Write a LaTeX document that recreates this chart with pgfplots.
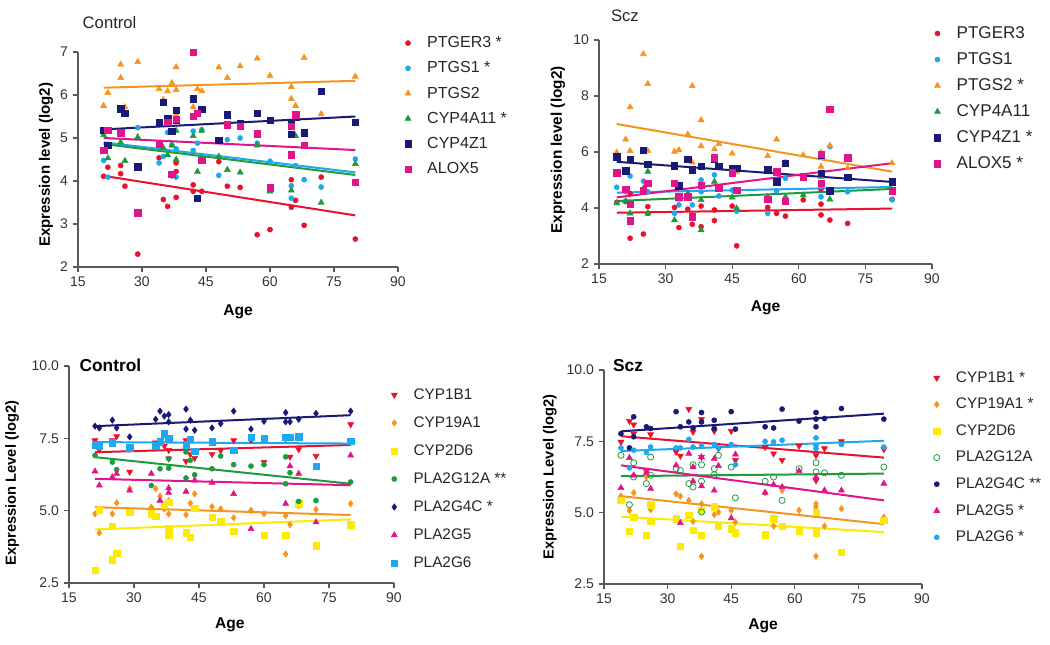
\documentclass[border=0pt]{standalone}
\usepackage{pgfplots}
\pgfplotsset{compat=1.18}
\usepackage{fontspec}
\setmainfont{Liberation Sans}
\definecolor{cRed}{RGB}{232,18,45}
\definecolor{cBlue}{RGB}{30,168,240}
\definecolor{cOrange}{RGB}{247,148,30}
\definecolor{cGreen}{RGB}{30,155,60}
\definecolor{cNavy}{RGB}{25,25,120}
\definecolor{cMag}{RGB}{225,20,140}
\definecolor{cYel}{RGB}{250,235,0}
\pgfplotsset{
 panel/.style={
  scale only axis, axis lines=left,
  axis line style={-, draw=black!65, line width=0.9pt},
  tick align=outside, major tick length=4pt,
  tick style={draw=black!65, line width=0.9pt},
  xmin=15, xmax=90, xtick={15,30,...,90},
  ticklabel style={font=\fontsize{10.5}{12}\selectfont, text=black!80},
  /pgf/number format/assume math mode=true,
  label style={font=\bfseries\fontsize{11.5}{14}\selectfont},
  xlabel={Age},
  xlabel style={font=\bfseries\fontsize{11.7}{14}\selectfont},
  legend style={draw=none, fill=none, font=\fontsize{12}{14}\selectfont, anchor=north west, row sep=5pt, text=black!85,
    /tikz/every odd column/.append style={column sep=10pt}},
  legend cell align=left,
  clip=false,
 },
 pt/.style={only marks, mark=*, mark size=1.9pt, color=#1},
 sq/.style={only marks, mark=square*, mark size=2.4pt, color=#1},
 tri/.style={only marks, mark=triangle*, mark size=2.6pt, color=#1},
 dtri/.style={only marks, mark=triangle*, mark size=2.6pt, mark options={rotate=180}, color=#1},
 dia/.style={only marks, mark=diamond*, mark size=2.4pt, color=#1},
 oc/.style={only marks, mark=o, mark size=2.3pt, color=#1, mark options={line width=0.6pt}},
 reg/.style={color=#1, line width=1.5pt, forget plot},
}
\begin{document}
\begin{tikzpicture}
\useasboundingbox (0,0) rectangle (787.5pt,483pt);
% ---------------- Panel 1: Control (top-left)
\begin{axis}[panel, at={(58.5pt,282.75pt)}, anchor=south west, width=240pt, height=161.25pt,
  ymin=2, ymax=7, ytick={2,3,...,7},
  ylabel={Expression level (log2)},
  ylabel style={at={(axis description cs:-0.1,0.475)}, anchor=center, font=\bfseries\fontsize{11.3}{14}\selectfont},
  xlabel style={at={(axis description cs:0.5,-0.21)}, anchor=center},
  legend style={at={(axis description cs:1.008,1.098)}}]
\addplot[pt=cRed] coordinates {(22,4.32)(21,4.11)(25,4.36)(25,4.17)(26,3.88)(29,2.30)(34,4.54)(35,3.57)(36,3.41)(37,4.12)(38,3.62)(38,4.42)(38,4.22)(42,3.91)(42,3.76)(44,3.76)(48,4.45)(50,3.88)(53,3.85)(57,2.75)(60,2.87)(65,4.03)(65,3.39)(66,3.55)(68,2.97)(72,4.09)(80,2.65)};
\addlegendentry{PTGER3 *}
\addplot[pt=cBlue] coordinates {(21,4.48)(22,4.09)(29,5.24)(34,4.42)(35,4.57)(36,5.13)(37,4.84)(38,4.09)(38,4.75)(42,5.16)(42,4.71)(43,4.88)(44,5.19)(48,4.13)(50,4.96)(53,5.0)(57,4.88)(60,4.46)(65,3.89)(65,3.60)(66,4.36)(68,4.03)(72,3.86)(80,4.51)};
\addlegendentry{PTGS1 *}
\addplot[tri=cOrange] coordinates {(21,5.75)(22,6.05)(25,6.71)(25,6.40)(26,5.72)(29,6.77)(34,6.14)(35,5.89)(36,6.09)(37,6.28)(38,6.65)(38,6.12)(38,5.54)(42,5.72)(43,6.14)(44,6.09)(48,6.64)(50,6.40)(53,6.67)(57,6.85)(60,6.45)(65,6.19)(65,5.91)(66,5.75)(68,6.87)(72,5.56)(80,6.43)};
\addlegendentry{PTGS2}
\addplot[tri=cGreen] coordinates {(21,5.07)(22,4.53)(25,4.90)(26,4.47)(29,5.02)(35,4.77)(36,4.61)(37,4.83)(38,5.17)(38,4.50)(42,5.05)(43,4.22)(44,5.17)(48,4.57)(50,4.26)(53,4.20)(57,4.83)(60,3.76)(65,3.78)(66,5.05)(68,5.13)(72,3.50)(80,4.40)};
\addlegendentry{CYP4A11 *}
\addplot[sq=cNavy] coordinates {(21,5.18)(22,4.83)(25,5.68)(25,5.12)(26,5.58)(29,4.33)(34,5.35)(35,5.83)(36,5.45)(37,5.16)(38,5.64)(38,5.41)(42,5.91)(42,5.50)(43,3.60)(44,5.67)(48,4.95)(50,5.54)(53,5.33)(57,5.57)(60,5.41)(65,5.35)(65,5.08)(66,5.49)(68,5.12)(72,6.08)(80,5.37)};
\addlegendentry{CYP4Z1}
\addplot[sq=cMag] coordinates {(21,4.71)(22,5.18)(25,5.12)(29,3.26)(34,4.87)(36,5.36)(37,4.15)(38,5.43)(42,6.99)(42,5.50)(43,5.57)(44,4.48)(50,5.31)(53,5.27)(57,5.10)(60,3.84)(65,5.27)(65,4.61)(66,5.54)(68,4.83)(80,3.97)};
\addlegendentry{ALOX5}
\addplot[reg=cRed] coordinates {(21,4.12)(80,3.20)};
\addplot[reg=cBlue] coordinates {(21,4.90)(80,4.20)};
\addplot[reg=cOrange] coordinates {(21,6.17)(80,6.33)};
\addplot[reg=cGreen] coordinates {(21,4.86)(80,4.14)};
\addplot[reg=cNavy] coordinates {(21,5.20)(80,5.50)};
\addplot[reg=cMag] coordinates {(21,5.00)(80,4.72)};
\node[anchor=west, font=\fontsize{12.5}{14}\selectfont, text=black!85] at (axis description cs:0.0,1.135) {Control};
\end{axis}
% ---------------- Panel 2: Scz (top-right)
\begin{axis}[panel, at={(449.25pt,285pt)}, anchor=south west, width=249.75pt, height=168pt,
  ymin=2, ymax=10, ytick={2,4,...,10},
  ylabel={Expression level (log2)},
  ylabel style={at={(axis description cs:-0.123,0.51)}, anchor=center},
  xlabel style={at={(axis description cs:0.5,-0.196)}, anchor=center},
  legend style={at={(axis description cs:0.994,1.085)}, font=\fontsize{12.8}{14}\selectfont, row sep=5.1pt}]
\addplot[pt=cRed] coordinates {(19,4.20)(21,4.23)(22,2.92)(22,4.52)(25,3.07)(25,4.67)(26,4.05)(26,3.81)(32,4.02)(33,3.30)(35,3.96)(36,3.75)(36,3.42)(38,4.07)(38,3.33)(41,3.93)(41,3.55)(42,4.74)(45,4.07)(46,2.65)(53,4.02)(55,3.81)(57,3.71)(61,4.29)(65,4.14)(65,3.75)(65,4.68)(67,3.57)(71,3.45)(81,4.31)};
\addlegendentry{PTGER3}
\addplot[pt=cBlue] coordinates {(19,4.74)(21,4.58)(22,5.14)(25,4.96)(26,4.58)(32,3.81)(33,4.11)(35,4.46)(36,4.11)(38,5.0)(38,4.58)(41,5.18)(42,4.43)(45,4.64)(46,3.89)(53,3.81)(55,4.61)(57,5.06)(61,5.14)(65,4.76)(65,4.40)(67,6.19)(71,4.58)(81,4.29)};
\addlegendentry{PTGS1}
\addplot[tri=cOrange] coordinates {(19,5.98)(21,6.45)(22,7.60)(22,6.04)(25,9.50)(26,8.43)(26,6.04)(32,6.01)(33,6.07)(35,6.63)(36,8.36)(36,5.63)(38,7.14)(38,6.21)(41,6.10)(42,6.29)(45,5.95)(46,5.30)(53,5.86)(55,6.45)(57,5.63)(61,5.89)(65,5.98)(65,5.48)(67,6.23)(71,5.42)(81,5.60)};
\addlegendentry{PTGS2 *}
\addplot[tri=cGreen] coordinates {(19,4.17)(21,4.25)(22,3.81)(25,4.70)(26,5.30)(26,3.81)(32,3.57)(33,4.31)(35,4.52)(38,3.21)(38,4.29)(41,4.94)(45,4.38)(46,3.99)(53,4.40)(57,4.40)(61,4.46)(65,5.12)(67,4.31)(81,4.62)};
\addlegendentry{CYP4A11}
\addplot[sq=cNavy] coordinates {(19,5.83)(21,5.33)(22,5.74)(25,6.07)(26,5.57)(32,5.51)(33,4.79)(35,5.75)(36,5.36)(38,5.48)(41,5.74)(42,5.48)(45,5.42)(46,5.42)(53,5.36)(55,4.94)(57,5.60)(61,5.10)(65,5.89)(65,5.24)(67,4.62)(71,5.10)(81,4.94)};
\addlegendentry{CYP4Z1 *}
\addplot[sq=cMag] coordinates {(19,5.26)(21,4.67)(22,4.13)(22,3.55)(25,4.64)(26,4.88)(32,4.88)(33,4.40)(35,4.40)(36,3.69)(38,4.82)(41,5.80)(42,4.70)(45,5.26)(46,4.64)(53,4.31)(55,5.30)(57,4.25)(61,5.12)(65,5.92)(65,4.88)(67,7.52)(71,5.80)(81,4.62)};
\addlegendentry{ALOX5 *}
\addplot[reg=cRed] coordinates {(19,3.83)(81,3.98)};
\addplot[reg=cBlue] coordinates {(19,4.55)(81,4.75)};
\addplot[reg=cOrange] coordinates {(19,7.00)(81,5.30)};
\addplot[reg=cGreen] coordinates {(19,4.25)(81,4.68)};
\addplot[reg=cNavy] coordinates {(19,5.65)(81,4.93)};
\addplot[reg=cMag] coordinates {(19,4.38)(81,5.60)};
\node[anchor=west, font=\fontsize{12.5}{14}\selectfont, text=black!85] at (axis description cs:0.022,1.11) {Scz};
\end{axis}
% ---------------- Panel 3: Control (bottom-left)
\begin{axis}[panel, at={(51.75pt,45.75pt)}, anchor=south west, width=243.75pt, height=162.75pt,
  ymin=2.5, ymax=10, ytick={2.5,5,7.5,10},
  yticklabel style={/pgf/number format/fixed, /pgf/number format/fixed zerofill, /pgf/number format/precision=1},
  ylabel={Expression Level (log2)},
  ylabel style={at={(axis description cs:-0.175,0.46)}, anchor=center, font=\bfseries\fontsize{11}{14}\selectfont},
  xlabel style={at={(axis description cs:0.495,-0.194)}, anchor=center},
  legend style={at={(axis description cs:0.978,0.922)}, font=\fontsize{11.5}{14}\selectfont, row sep=7.5pt}]
\addplot[dtri=cRed] coordinates {(21,7.43)(22,7.11)(25,7.43)(26,7.57)(29,6.34)(35,7.35)(37,7.24)(38,7.09)(38,6.80)(42,7.43)(42,6.71)(43,6.95)(44,6.82)(48,6.95)(50,7.09)(53,7.43)(57,7.43)(60,6.68)(65,7.49)(66,6.86)(68,7.12)(72,6.89)(80,7.98)};
\addlegendentry{CYP1B1}
\addplot[dia=cOrange] coordinates {(21,4.89)(22,4.23)(25,4.89)(26,5.27)(29,5.76)(29,4.95)(34,5.12)(35,5.76)(36,5.50)(37,5.06)(38,4.89)(38,5.35)(42,4.86)(43,5.26)(44,5.58)(48,5.14)(50,5.06)(53,4.75)(57,5.01)(60,4.89)(65,4.83)(65,3.50)(66,4.52)(68,5.18)(72,5.04)(80,5.24)};
\addlegendentry{CYP19A1}
\addplot[sq=cYel] coordinates {(21,2.94)(22,5.01)(25,3.31)(26,3.53)(25,4.46)(29,4.95)(34,4.89)(35,4.81)(37,5.20)(38,5.29)(38,4.37)(38,4.17)(42,4.23)(43,4.08)(44,5.09)(48,4.77)(50,4.62)(53,4.28)(60,4.14)(65,4.14)(68,5.24)(72,3.79)(80,4.51)};
\addlegendentry{CYP2D6}
\addplot[pt=cGreen] coordinates {(21,6.91)(25,6.68)(26,6.42)(29,7.11)(34,5.87)(36,6.45)(38,6.80)(38,6.47)(42,7.03)(42,6.13)(43,6.74)(44,6.24)(48,6.45)(50,6.89)(53,6.59)(57,6.54)(60,6.59)(65,6.86)(65,5.93)(66,6.31)(68,5.32)(72,5.35)(80,5.99)};
\addlegendentry{PLA2G12A **}
\addplot[dia=cNavy] coordinates {(21,7.92)(22,7.86)(25,8.13)(26,7.86)(29,7.55)(35,8.16)(36,8.44)(37,8.27)(38,8.32)(38,8.07)(42,8.51)(42,7.82)(43,8.13)(44,7.78)(48,7.86)(50,8.01)(53,8.44)(57,7.82)(60,8.09)(65,8.39)(65,8.07)(66,8.07)(68,8.16)(72,8.36)(80,8.44)};
\addlegendentry{PLA2G4C *}
\addplot[tri=cMag] coordinates {(21,6.36)(22,5.87)(25,6.16)(26,6.28)(29,5.70)(34,6.28)(36,5.35)(38,5.78)(38,5.62)(42,5.66)(44,6.05)(48,5.97)(53,5.58)(57,4.37)(65,5.24)(66,6.54)(68,6.28)(72,4.60)(80,6.91)};
\addlegendentry{PLA2G5}
\addplot[sq=cBlue] coordinates {(21,7.28)(22,7.24)(25,7.35)(29,7.17)(35,7.24)(36,7.38)(37,7.66)(38,7.51)(42,7.28)(43,7.47)(44,7.05)(48,7.38)(53,7.09)(57,7.53)(60,7.49)(65,7.53)(66,7.53)(68,7.55)(72,6.53)(80,7.40)};
\addlegendentry{PLA2G6}
\addplot[reg=cRed] coordinates {(21,7.02)(80,7.27)};
\addplot[reg=cOrange] coordinates {(21,5.12)(80,4.85)};
\addplot[reg=cYel] coordinates {(21,4.35)(80,4.70)};
\addplot[reg=cGreen] coordinates {(21,6.85)(80,5.93)};
\addplot[reg=cNavy] coordinates {(21,7.92)(80,8.30)};
\addplot[reg=cMag] coordinates {(21,6.10)(80,5.88)};
\addplot[reg=cBlue] coordinates {(21,7.37)(80,7.32)};
\node[anchor=west, font=\bfseries\fontsize{13}{15}\selectfont] at (axis description cs:0.018,1.005) {Control};
\end{axis}
% ---------------- Panel 4: Scz (bottom-right)
\begin{axis}[panel, at={(453pt,45pt)}, anchor=south west, width=238.5pt, height=160.5pt,
  ymin=2.5, ymax=10, ytick={2.5,5,7.5,10},
  yticklabel style={/pgf/number format/fixed, /pgf/number format/fixed zerofill, /pgf/number format/precision=1},
  ylabel={Expression Level (log2)},
  ylabel style={at={(axis description cs:-0.17,0.5)}, anchor=center, font=\bfseries\fontsize{11}{14}\selectfont},
  xlabel style={at={(axis description cs:0.5,-0.196)}, anchor=center},
  legend style={at={(axis description cs:1.023,1.019)}, font=\fontsize{11.5}{14}\selectfont, row sep=6.4pt}]
\addplot[dtri=cRed] coordinates {(19,7.48)(21,8.21)(22,8.09)(22,7.77)(25,6.45)(26,7.74)(32,7.13)(33,6.99)(35,8.63)(36,7.83)(38,8.28)(38,6.95)(41,7.86)(42,7.25)(45,7.86)(46,6.84)(53,7.30)(55,7.07)(57,6.84)(61,7.34)(65,7.01)(65,6.13)(67,7.25)(71,7.50)(81,7.22)};
\addlegendentry{CYP1B1 *}
\addplot[dia=cOrange] coordinates {(19,5.58)(21,5.08)(22,5.70)(25,6.25)(26,5.11)(32,5.66)(33,5.58)(35,5.43)(36,4.69)(38,5.31)(38,3.47)(41,4.93)(42,5.02)(45,5.08)(46,4.67)(53,5.70)(55,4.53)(57,5.78)(61,5.08)(65,5.31)(65,5.20)(65,3.47)(67,4.53)(71,5.14)(81,4.84)};
\addlegendentry{CYP19A1 *}
\addplot[sq=cYel] coordinates {(19,5.43)(21,4.34)(22,4.84)(25,4.20)(26,5.28)(26,4.69)(32,4.78)(33,3.82)(35,4.90)(36,4.38)(38,4.20)(38,5.08)(41,5.20)(42,4.53)(45,4.43)(46,4.29)(53,4.23)(55,4.78)(57,4.53)(61,4.35)(65,5.02)(65,4.29)(71,3.61)(81,4.73)};
\addlegendentry{CYP2D6}
\addplot[oc=cGreen] coordinates {(19,7.01)(21,5.28)(22,6.75)(22,6.25)(25,6.02)(26,6.95)(26,6.31)(32,6.54)(33,6.48)(35,6.02)(36,6.68)(36,5.90)(38,6.68)(38,6.10)(38,5.02)(41,6.54)(41,6.33)(42,7.01)(45,6.60)(46,5.52)(53,6.10)(55,6.25)(57,5.43)(61,6.54)(65,6.75)(65,6.43)(67,6.40)(71,6.31)(81,6.60)};
\addlegendentry{PLA2G12A}
\addplot[pt=cNavy] coordinates {(19,7.77)(21,7.27)(22,8.36)(22,7.66)(25,8.01)(26,7.95)(32,8.54)(33,8.01)(35,8.18)(36,7.97)(38,8.51)(38,8.18)(41,8.24)(41,7.95)(45,8.54)(46,7.93)(53,8.01)(55,7.97)(57,8.63)(61,8.21)(65,8.51)(65,8.01)(65,8.28)(67,8.30)(71,8.65)(81,8.28)};
\addlegendentry{PLA2G4C **}
\addplot[tri=cMag] coordinates {(19,5.87)(21,6.92)(22,6.31)(25,6.40)(26,5.84)(32,6.66)(33,4.64)(35,7.07)(36,6.60)(36,6.10)(38,6.95)(38,5.93)(41,6.89)(41,5.78)(42,6.64)(45,4.81)(46,7.04)(53,5.70)(55,5.98)(57,5.90)(61,6.46)(65,6.25)(67,5.78)(71,5.78)(81,6.02)};
\addlegendentry{PLA2G5 *}
\addplot[pt=cBlue] coordinates {(19,7.27)(21,6.57)(22,7.19)(25,7.11)(26,7.30)(32,7.27)(33,7.27)(35,7.57)(36,7.30)(38,7.36)(41,7.39)(42,7.27)(45,7.39)(46,6.68)(53,7.50)(55,7.48)(57,7.54)(65,7.62)(65,7.36)(65,7.25)(71,7.39)(81,7.30)};
\addlegendentry{PLA2G6 *}
\addplot[reg=cRed] coordinates {(19,7.68)(81,6.93)};
\addplot[reg=cOrange] coordinates {(19,5.58)(81,4.60)};
\addplot[reg=cYel] coordinates {(19,4.86)(81,4.32)};
\addplot[reg=cGreen] coordinates {(19,6.28)(81,6.37)};
\addplot[reg=cNavy] coordinates {(19,7.85)(81,8.47)};
\addplot[reg=cMag] coordinates {(19,6.66)(81,5.43)};
\addplot[reg=cBlue] coordinates {(19,7.16)(81,7.52)};
\node[anchor=west, font=\bfseries\fontsize{13}{15}\selectfont] at (axis description cs:0.014,1.023) {Scz};
\end{axis}
\end{tikzpicture}
\end{document}
